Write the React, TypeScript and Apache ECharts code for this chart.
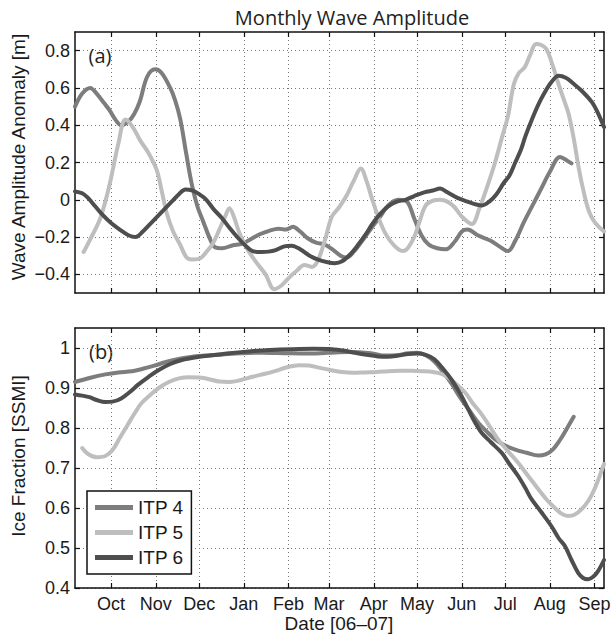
import React, { useEffect, useRef } from "react";
import * as echarts from "echarts";

// x values are day numbers counted from 1 Sep 2006 (day 30 = 1 Oct 2006, day 365 = 1 Sep 2007)
const monthTicks = [30, 61, 91, 122, 153, 181, 212, 242, 273, 303, 334, 365];
const monthNames = ["Oct", "Nov", "Dec", "Jan", "Feb", "Mar", "Apr", "May", "Jun", "Jul", "Aug", "Sep"];

const waveTicks = [-0.4, -0.2, 0, 0.2, 0.4, 0.6, 0.8];
const iceTicks = [0.4, 0.5, 0.6, 0.7, 0.8, 0.9, 1.0];

const seriesNames = ["ITP 4", "ITP 5", "ITP 6"];
const seriesColors = ["#7d7d7d", "#bebebe", "#4e4e4e"];

// Panel (a): monthly wave amplitude anomaly [m]
const itp4Wave: [number, number][] = [
  [5, 0.5], [10, 0.57], [15.5, 0.6], [20, 0.57], [25, 0.52], [29, 0.48], [33, 0.43], [37, 0.4],
  [42, 0.42], [46, 0.46], [50, 0.53], [55, 0.66], [60.5, 0.7], [65, 0.68], [71, 0.6], [74.5, 0.53],
  [78, 0.43], [82, 0.25], [86, 0.08], [90, -0.04], [94, -0.12], [98, -0.2], [102, -0.255], [107, -0.26],
  [114, -0.245], [121, -0.235], [127, -0.21], [133, -0.185], [140, -0.165], [146, -0.155], [151, -0.16],
  [156, -0.145], [161, -0.17], [166, -0.205], [172, -0.23], [178, -0.24], [184, -0.27], [189, -0.3],
  [193, -0.31], [198, -0.28], [204, -0.22], [210, -0.155], [216, -0.095], [222, -0.03], [229, 0.0],
  [235, -0.01], [240, -0.1], [245, -0.19], [250, -0.24], [256, -0.26], [262, -0.265], [268, -0.225],
  [273, -0.17], [277, -0.16], [284, -0.19], [293, -0.22], [299, -0.25], [305, -0.275], [310, -0.22],
  [316, -0.12], [322, -0.03], [328, 0.06], [334, 0.15], [341, 0.23], [346, 0.21], [349, 0.195],
];

const itp5Wave: [number, number][] = [
  [11, -0.28], [15, -0.22], [22, -0.11], [26, -0.01], [29.5, 0.1], [35, 0.3], [40, 0.43], [45, 0.39],
  [50, 0.32], [56, 0.25], [61.6, 0.16], [65, 0.05], [68.5, -0.07], [73, -0.17], [77.8, -0.24],
  [82.4, -0.31], [87, -0.32], [91.6, -0.315], [96, -0.28], [100.8, -0.23], [105, -0.16], [109, -0.09],
  [112, -0.045], [115, -0.09], [119, -0.18], [124, -0.26], [131, -0.34], [137, -0.4], [143, -0.48],
  [148, -0.46], [153, -0.42], [158, -0.385], [164, -0.35], [169, -0.36], [173, -0.33], [178, -0.22],
  [183, -0.09], [188, -0.04], [193, 0.02], [198, 0.1], [203, 0.168], [207, 0.1], [211, 0.0],
  [215, -0.09], [220, -0.18], [226, -0.245], [232, -0.275], [235.5, -0.26], [240, -0.2], [244, -0.11],
  [248, -0.03], [253, -0.005], [258, 0.0], [263, -0.01], [268, -0.04], [273, -0.09], [280, -0.13],
  [285, -0.05], [291, 0.08], [296, 0.2], [301, 0.34], [305, 0.45], [309, 0.62], [312.5, 0.68],
  [316.5, 0.71], [320, 0.77], [324.5, 0.835], [328, 0.83], [331.5, 0.81], [336, 0.72], [340, 0.62],
  [344, 0.53], [347, 0.46], [350.5, 0.33], [354, 0.17], [357.5, 0.04], [361, -0.06], [365, -0.12],
  [371.5, -0.17],
];

const itp6Wave: [number, number][] = [
  [5, 0.045], [10, 0.035], [14, 0.01], [19, -0.035], [24, -0.08], [30, -0.125], [36, -0.16], [42, -0.19],
  [47, -0.2], [52, -0.17], [57, -0.13], [62, -0.09], [67, -0.05], [72, -0.01], [77, 0.03], [81.5, 0.055],
  [86, 0.05], [91, 0.03], [96, 0.0], [101, -0.05], [107, -0.1], [112, -0.15], [118, -0.205],
  [123, -0.245], [128, -0.275], [134, -0.28], [139, -0.278], [144, -0.27], [150, -0.25], [155, -0.246],
  [161, -0.265], [167, -0.297], [173, -0.32], [180, -0.335], [185, -0.34], [190, -0.33], [196, -0.29],
  [201, -0.243], [206, -0.19], [211, -0.13], [216, -0.08], [222, -0.035], [228, -0.01], [234, 0.0],
  [240, 0.02], [247, 0.04], [253, 0.05], [258, 0.06], [263, 0.04], [270, 0.01], [277, -0.01],
  [283, -0.025], [287, -0.03], [292, -0.01], [297, 0.03], [302, 0.09], [306, 0.13], [310, 0.2],
  [314, 0.27], [317, 0.34], [321, 0.42], [326, 0.51], [330, 0.57], [335, 0.63], [340, 0.665],
  [345, 0.655], [350, 0.625], [356, 0.585], [363, 0.525], [367, 0.47], [371.5, 0.39],
];

// Panel (b): SSMI ice fraction
const itp4Ice: [number, number][] = [
  [5, 0.915], [15, 0.925], [26, 0.934], [35, 0.939], [44.5, 0.942], [52, 0.948], [60, 0.956],
  [68, 0.965], [76, 0.972], [84, 0.977], [95, 0.981], [107, 0.984], [120, 0.987], [135, 0.988],
  [150, 0.987], [165, 0.986], [180, 0.988], [195, 0.99], [210, 0.987], [220, 0.981], [228, 0.982],
  [236, 0.987], [242, 0.988], [248, 0.982], [254, 0.966], [260, 0.94], [266, 0.91], [272, 0.875],
  [278, 0.845], [284, 0.815], [290, 0.792], [296, 0.772], [302, 0.758], [310, 0.746], [318, 0.738],
  [326, 0.731], [331, 0.734], [336, 0.746], [341, 0.77], [346, 0.8], [350.5, 0.828],
];

const itp5Ice: [number, number][] = [
  [10, 0.75], [14, 0.735], [20, 0.727], [26, 0.73], [31, 0.745], [36, 0.775], [41, 0.805],
  [46, 0.835], [51, 0.862], [57, 0.882], [63, 0.9], [70, 0.915], [77, 0.924], [84, 0.927],
  [91, 0.926], [98, 0.922], [105, 0.916], [112, 0.915], [120, 0.92], [128, 0.928], [136, 0.935],
  [144, 0.943], [152, 0.952], [160, 0.957], [167, 0.956], [174, 0.951], [182, 0.945], [190, 0.94],
  [198, 0.938], [206, 0.939], [214, 0.94], [222, 0.942], [230, 0.943], [238, 0.943], [246, 0.942],
  [253, 0.94], [259, 0.935], [264, 0.925], [269, 0.91], [275, 0.89], [281, 0.86], [287, 0.833],
  [293, 0.8], [298, 0.772], [305, 0.742], [312, 0.713], [319, 0.68], [326, 0.647], [332, 0.62],
  [337.5, 0.6], [342, 0.586], [346.5, 0.58], [351, 0.583], [356, 0.597], [361, 0.62], [365, 0.648],
  [368, 0.675], [371.5, 0.71],
];

const itp6Ice: [number, number][] = [
  [5, 0.884], [10, 0.881], [15, 0.877], [20, 0.87], [26, 0.865], [31, 0.866], [37, 0.874], [43, 0.89],
  [49, 0.909], [56, 0.928], [63, 0.945], [71, 0.96], [79, 0.97], [89, 0.977], [100, 0.982],
  [112, 0.987], [127, 0.992], [140, 0.995], [155, 0.997], [170, 0.998], [183, 0.997], [192, 0.993],
  [199, 0.988], [207, 0.983], [215, 0.979], [222, 0.978], [229, 0.981], [236, 0.985], [242, 0.986],
  [248, 0.983], [254, 0.972], [260, 0.948], [266, 0.92], [272, 0.885], [277.4, 0.847], [282, 0.815],
  [286.7, 0.788], [293, 0.765], [300.6, 0.738], [306, 0.71], [312, 0.68], [317, 0.65], [321.3, 0.622],
  [328, 0.59], [335, 0.555], [340, 0.525], [344.4, 0.505], [349, 0.47], [353.6, 0.438], [357, 0.425],
  [360.5, 0.422], [364, 0.428], [367.5, 0.443], [371.5, 0.47],
];

const X_MIN = 5;
const X_MAX = 371.5;
const LABEL_FONT = "'Liberation Sans', Arial, Helvetica, sans-serif";
const TITLE_FONT = "'Open Sans', 'Noto Sans', sans-serif";
const INK = "#1a1a1a";

const axisLine = { show: true, onZero: false, lineStyle: { color: "#111", width: 1.5 } };
const gridDots = { show: true, lineStyle: { color: "#777", width: 1, type: [1, 3] as number[] } };

function monthLabel(v: number): string {
  const i = monthTicks.indexOf(Math.round(v));
  return i >= 0 ? monthNames[i] : "";
}

function waveLabel(v: number): string {
  if (Math.abs(v) < 1e-9) return "0";
  return (v < 0 ? "\u2212" : "") + Math.abs(v).toFixed(1);
}

function iceLabel(v: number): string {
  return String(Number(v.toFixed(2)));
}

function xAxisFor(gridIndex: number, position: "top" | "bottom", labels: boolean) {
  return {
    type: "value",
    gridIndex,
    position,
    min: X_MIN,
    max: X_MAX,
    axisLine,
    axisTick: {
      show: true,
      inside: true,
      length: 5,
      customValues: monthTicks,
      lineStyle: { color: "#111", width: 1.2 },
    },
    axisLabel: {
      show: labels,
      customValues: monthTicks,
      formatter: monthLabel,
      fontFamily: LABEL_FONT,
      fontSize: 18,
      color: INK,
      margin: 7,
    },
    splitLine: position === "bottom" ? gridDots : { show: false },
  };
}

function yAxisFor(
  gridIndex: number,
  position: "left" | "right",
  min: number,
  max: number,
  ticks: number[],
  fmt: (v: number) => string
) {
  const left = position === "left";
  return {
    type: "value",
    gridIndex,
    position,
    min,
    max,
    axisLine,
    axisTick: {
      show: true,
      inside: true,
      length: 5,
      customValues: ticks,
      lineStyle: { color: "#111", width: 1.2 },
    },
    axisLabel: {
      show: left,
      customValues: ticks,
      formatter: fmt,
      fontFamily: LABEL_FONT,
      fontSize: 18,
      color: INK,
      margin: 5,
    },
    splitLine: left ? gridDots : { show: false },
  };
}

function lineSeries(name: string, color: string, data: [number, number][], axisIndex: number) {
  return {
    type: "line",
    name,
    data,
    xAxisIndex: axisIndex,
    yAxisIndex: axisIndex,
    smooth: 0.35,
    symbol: "none",
    showSymbol: false,
    clip: true,
    lineStyle: { color, width: 4, cap: "round", join: "round" },
    itemStyle: { color },
    emphasis: { disabled: true },
  };
}

export default function App() {
  const ref = useRef<HTMLDivElement>(null);

  useEffect(() => {
    if (!ref.current) return;
    const chart = echarts.init(ref.current, null, { renderer: "svg" });

    const option = {
      animation: false,
      backgroundColor: "#ffffff",
      grid: [
        { left: 75, top: 32, width: 529, height: 261, outerBoundsMode: "none" },
        { left: 75, top: 328, width: 529, height: 260, outerBoundsMode: "none" },
      ],
      xAxis: [
        xAxisFor(0, "bottom", false),
        xAxisFor(1, "bottom", true),
        xAxisFor(0, "top", false),
        xAxisFor(1, "top", false),
      ],
      yAxis: [
        yAxisFor(0, "left", -0.5, 0.9, waveTicks, waveLabel),
        yAxisFor(1, "left", 0.4, 1.05, iceTicks, iceLabel),
        yAxisFor(0, "right", -0.5, 0.9, waveTicks, waveLabel),
        yAxisFor(1, "right", 0.4, 1.05, iceTicks, iceLabel),
      ],
      legend: {
        show: true,
        data: seriesNames,
        orient: "vertical",
        left: 87,
        top: 491,
        padding: [7, 8, 7, 8],
        itemGap: 6,
        itemWidth: 38,
        itemHeight: 5,
        icon: "rect",
        selectedMode: false,
        backgroundColor: "#ffffff",
        borderColor: "#111",
        borderWidth: 1.5,
        borderRadius: 0,
        textStyle: { fontFamily: LABEL_FONT, fontSize: 19, color: INK, padding: [0, 0, 0, 0] },
      },
      series: [
        lineSeries(seriesNames[0], seriesColors[0], itp4Wave, 0),
        lineSeries(seriesNames[1], seriesColors[1], itp5Wave, 0),
        lineSeries(seriesNames[2], seriesColors[2], itp6Wave, 0),
        lineSeries(seriesNames[0], seriesColors[0], itp4Ice, 1),
        lineSeries(seriesNames[1], seriesColors[1], itp5Ice, 1),
        lineSeries(seriesNames[2], seriesColors[2], itp6Ice, 1),
      ],
      graphic: [
        {
          type: "text",
          x: 352,
          y: 17,
          style: {
            text: "Monthly Wave Amplitude",
            fontFamily: TITLE_FONT,
            fontSize: 20,
            fill: "#222",
            align: "center",
            verticalAlign: "middle",
          },
        },
        {
          type: "text",
          x: 100,
          y: 55,
          style: { text: "(a)", fontFamily: TITLE_FONT, fontSize: 20, fill: "#222", align: "center", verticalAlign: "middle" },
        },
        {
          type: "text",
          x: 101,
          y: 351,
          style: { text: "(b)", fontFamily: TITLE_FONT, fontSize: 20, fill: "#222", align: "center", verticalAlign: "middle" },
        },
        {
          type: "text",
          x: 18,
          y: 157,
          rotation: Math.PI / 2,
          style: {
            text: "Wave Amplitude Anomaly [m]",
            fontFamily: LABEL_FONT,
            fontSize: 19,
            fill: INK,
            align: "center",
            verticalAlign: "middle",
          },
        },
        {
          type: "text",
          x: 18,
          y: 456,
          rotation: Math.PI / 2,
          style: {
            text: "Ice Fraction [SSMI]",
            fontFamily: LABEL_FONT,
            fontSize: 19,
            fill: INK,
            align: "center",
            verticalAlign: "middle",
          },
        },
        {
          type: "text",
          x: 339,
          y: 623,
          style: {
            text: "Date [06\u201307]",
            fontFamily: LABEL_FONT,
            fontSize: 19,
            fill: INK,
            align: "center",
            verticalAlign: "middle",
          },
        },
      ],
    };

    chart.setOption(option as any);
    return () => chart.dispose();
  }, []);

  return (
    <div
      ref={ref}
      style={{ position: "absolute", left: 0, top: 0, width: 612, height: 635, background: "#fff" }}
    />
  );
}
